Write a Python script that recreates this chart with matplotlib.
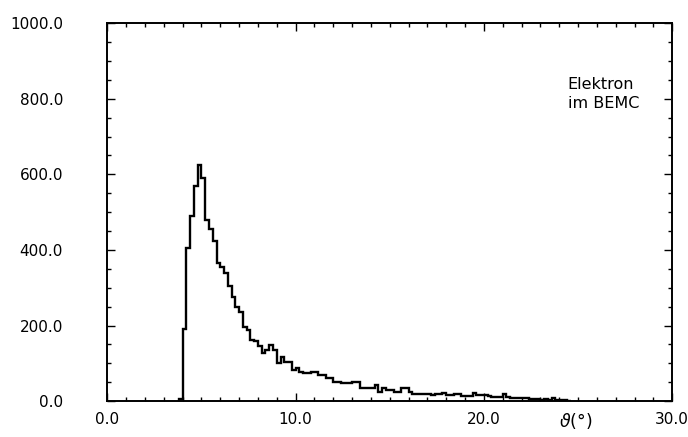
import numpy as np
import matplotlib
matplotlib.use("Agg")
import matplotlib.pyplot as plt
from matplotlib.ticker import MultipleLocator, FormatStrFormatter

# Histogram data: counts per 0.2 degree bin starting at 3.8 degrees
bin_start = 3.8
bin_width = 0.2
counts = [
    5, 190, 405, 490, 570, 625, 590, 480, 455, 425,
    365, 355, 340, 305, 275, 250, 235, 195, 188, 162,
    158, 145, 128, 135, 148, 135, 100, 117, 104, 104,
    82, 87, 78, 74, 74, 78, 78, 69, 69, 61,
    61, 51, 51, 47, 47, 47, 51, 51, 34, 34,
    34, 34, 42, 25, 34, 29, 29, 25, 25, 34,
    34, 25, 20, 20, 20, 18, 20, 16, 20, 20,
    22, 16, 16, 20, 20, 13, 13, 13, 22, 16,
    16, 16, 14, 12, 11, 11, 18, 10, 9, 9,
    8, 8, 8, 6, 5, 5, 4, 6, 4, 8,
    3, 3, 2, 0,
]
x_ticks = [0, 10, 20, 30]
y_ticks = [0, 200, 400, 600, 800, 1000]
annotation = ["Elektron", "im BEMC"]
x_label = r"$\vartheta$(°)"

edges = bin_start + bin_width * np.arange(len(counts) + 1)

fig = plt.figure(figsize=(6.88, 4.37), dpi=100)
ax = fig.add_axes([0.156, 0.082, 0.821, 0.865])
ax.stairs(counts, edges, baseline=0, color="black", linewidth=1.7)

ax.set_xlim(0, 30)
ax.set_ylim(0, 1000)
ax.set_xticks(x_ticks)
ax.set_yticks(y_ticks)
ax.xaxis.set_minor_locator(MultipleLocator(1))
ax.yaxis.set_minor_locator(MultipleLocator(50))
ax.xaxis.set_major_formatter(FormatStrFormatter("%.1f"))
ax.yaxis.set_major_formatter(FormatStrFormatter("%.1f"))

ax.tick_params(which="both", direction="in", top=True, right=True,
               width=1.0, labelsize=11)
ax.tick_params(which="major", length=6)
ax.tick_params(which="minor", length=3)
ax.tick_params(axis="y", which="major", pad=32)
ax.tick_params(axis="x", which="major", pad=8)
for lbl in ax.get_xticklabels() + ax.get_yticklabels():
    lbl.set_fontweight("medium")
for sp in ax.spines.values():
    sp.set_linewidth(1.4)

ax.text(24.45, 838, annotation[0], fontsize=11.5, va="center", ha="left")
ax.text(24.45, 788, annotation[1], fontsize=11.5, va="center", ha="left")
ax.text(24.9, -52, x_label, fontsize=12.5, va="center", ha="center")

fig.savefig("out.png", dpi=100)
